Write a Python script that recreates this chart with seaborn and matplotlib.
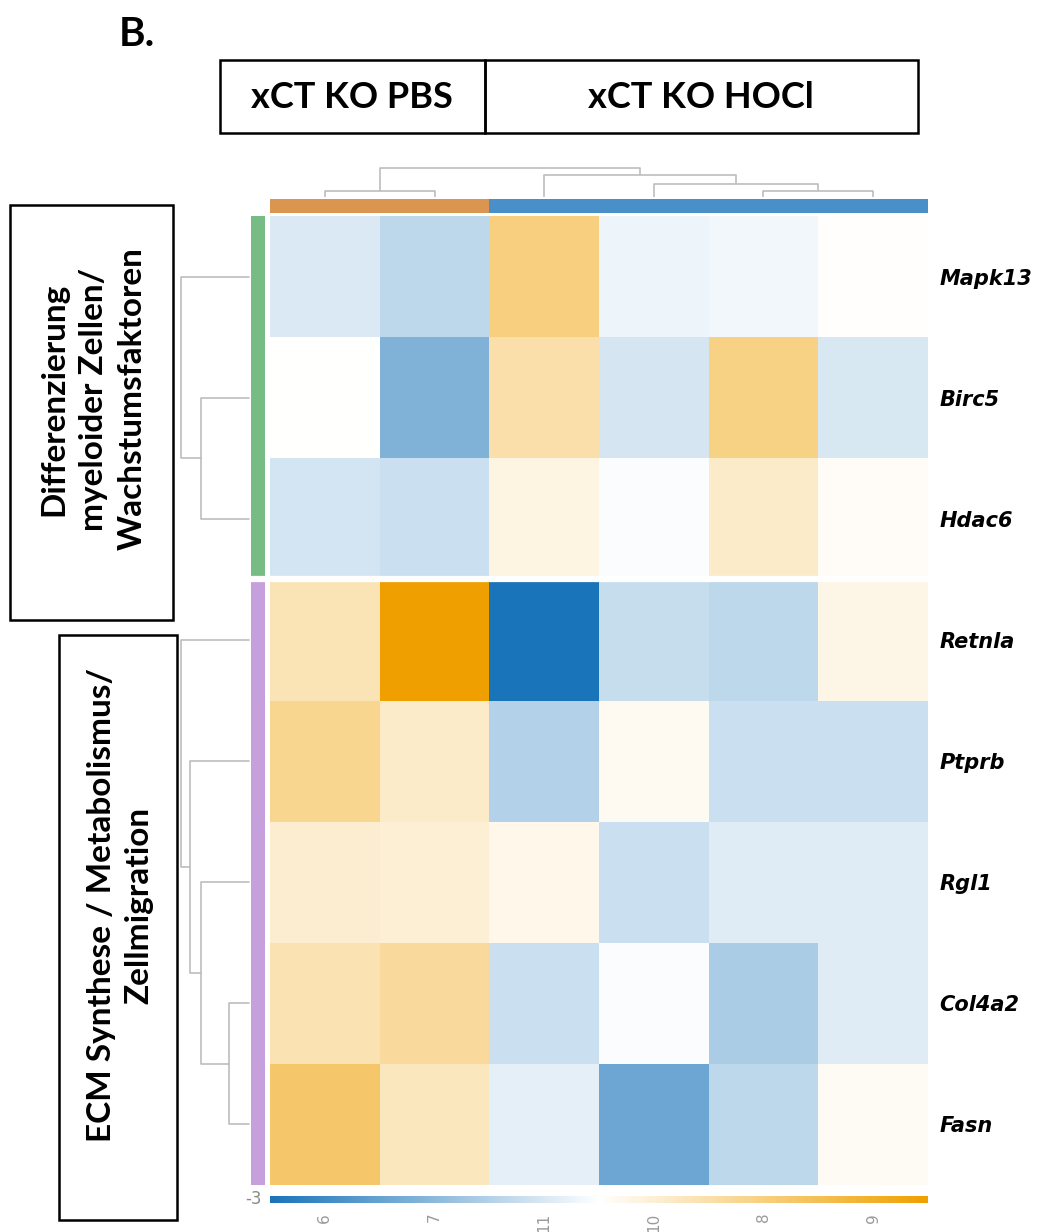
import numpy as np
import pandas as pd
import matplotlib
matplotlib.use("Agg")
import matplotlib.pyplot as plt
import seaborn as sns
from matplotlib.colors import LinearSegmentedColormap, ListedColormap
from matplotlib.patches import Rectangle

# ---------------- data ----------------
samples = ["6", "7", "11", "10", "8", "9"]
sample_groups = ["xCT KO PBS", "xCT KO PBS", "xCT KO HOCl", "xCT KO HOCl", "xCT KO HOCl", "xCT KO HOCl"]
genes = ["Mapk13", "Birc5", "Hdac6", "Retnla", "Ptprb", "Rgl1", "Col4a2", "Fasn"]
gene_groups = ["Differenzierung\nmyeloider Zellen/\nWachstumsfaktoren"] * 3 + \
              ["ECM Synthese / Metabolismus/\nZellmigration"] * 5

# row z-scores (columns in sample order above)
mapk13 = [-0.48, -0.85, 1.50, -0.22, -0.18, 0.04]
birc5 = [0.02, -1.65, 1.00, -0.55, 1.45, -0.50]
hdac6 = [-0.58, -0.70, 0.35, -0.05, 0.65, 0.08]
retnla = [0.85, 3.00, -3.00, -0.75, -0.85, 0.30]
ptprb = [1.30, 0.65, -1.00, 0.15, -0.70, -0.70]
rgl1 = [0.55, 0.50, 0.25, -0.70, -0.40, -0.40]
col4a2 = [0.90, 1.15, -0.70, -0.05, -1.10, -0.40]
fasn = [1.75, 0.75, -0.35, -1.90, -0.85, 0.12]

# hierarchical merges: (child a, child b, normalised height); new nodes numbered after leaves
col_merges = [(0, 1, 0.20), (4, 5, 0.20), (3, 7, 0.46), (2, 8, 0.76), (6, 9, 1.00)]
row_merges_a = [(1, 2, 0.70), (0, 3, 1.00)]
row_merges_b = [(3, 4, 0.30), (2, 5, 0.70), (1, 6, 0.87), (0, 7, 1.00)]

vmin, vmax = -3, 3

# ---------------- style ----------------
sns.set_style("white")
plt.rcParams["font.family"] = ["Lato", "DejaVu Sans"]
plt.rcParams["text.color"] = "black"

W, H = 1056, 1232
fig = plt.figure(figsize=(W / 100, H / 100), dpi=100)


def px_axes(left, top, right, bottom):
    return fig.add_axes([left / W, 1 - bottom / H, (right - left) / W, (bottom - top) / H])


def px_box(left, top, right, bottom, lw=1.8):
    fig.add_artist(Rectangle((left / W, 1 - bottom / H), (right - left) / W, (bottom - top) / H,
                             transform=fig.transFigure, fill=False, lw=lw, ec="black"))


def dendro_segments(n_leaves, merges):
    pos = {i: i + 0.5 for i in range(n_leaves)}
    hgt = {i: 0.0 for i in range(n_leaves)}
    segs = []
    for k, (a, b, h) in enumerate(merges):
        node = n_leaves + k
        segs.append(([pos[a], pos[a], pos[b], pos[b]], [hgt[a], h, h, hgt[b]]))
        pos[node] = (pos[a] + pos[b]) / 2
        hgt[node] = h
    return segs


cmap = LinearSegmentedColormap.from_list("bwo", ["#1a74b9", "#ffffff", "#efa000"])
dendro_color = "#bdbdbd"

# ---------------- heatmap ----------------
df = pd.DataFrame([mapk13, birc5, hdac6, retnla, ptprb, rgl1, col4a2, fasn],
                  index=genes, columns=samples)

ax = px_axes(270, 216, 928, 1185)
cax = px_axes(270, 1196, 928, 1203)
sns.heatmap(df, ax=ax, cmap=cmap, vmin=vmin, vmax=vmax, cbar=True, cbar_ax=cax,
            cbar_kws={"orientation": "horizontal"}, linewidths=0)
n_first = gene_groups.count(gene_groups[0])
ax.axhline(n_first, color="white", lw=4.5)
ax.set_xlabel("")
ax.set_ylabel("")
ax.tick_params(axis="x", length=0, pad=20, labelsize=11, labelcolor="#9a9a9a", labelrotation=90)
for t in ax.get_xticklabels():
    t.set_family(["DejaVu Sans"])
ax.yaxis.tick_right()
ax.tick_params(axis="y", length=0, pad=8)
ax.set_yticklabels(genes, rotation=0, fontsize=15, fontweight="bold", fontstyle="italic",
                   family=["DejaVu Sans"], color="black")

cbar = ax.collections[0].colorbar
cbar.outline.set_visible(False)
cbar.set_ticks([])
cax.text(-0.012, 0.5, f"{vmin:g}", transform=cax.transAxes, ha="right", va="center",
         fontsize=12, color="#8a8a8a", family=["DejaVu Sans"])

# ---------------- column annotation bar ----------------
col_levels = list(dict.fromkeys(sample_groups))
col_codes = pd.DataFrame([[col_levels.index(g) for g in sample_groups]], columns=samples)
ax_cc = px_axes(270, 199, 928, 213)
sns.heatmap(col_codes, ax=ax_cc, cmap=ListedColormap(["#da9651", "#4a90c8"]), vmin=-0.5, vmax=1.5,
            cbar=False, xticklabels=False, yticklabels=False)

# ---------------- row annotation bar ----------------
row_levels = list(dict.fromkeys(gene_groups))
row_codes = pd.DataFrame({"g": [row_levels.index(g) for g in gene_groups]}, index=genes)
ax_rc = px_axes(251, 216, 265, 1185)
sns.heatmap(row_codes, ax=ax_rc, cmap=ListedColormap(["#77bb85", "#c6a0dc"]), vmin=-0.5, vmax=1.5,
            cbar=False, xticklabels=False, yticklabels=False)
ax_rc.axhline(n_first, color="white", lw=4.5)

# ---------------- dendrograms ----------------
ax_top = px_axes(270, 168, 928, 197)
for xs, ys in dendro_segments(len(samples), col_merges):
    ax_top.plot(xs, ys, color=dendro_color, lw=1.2, clip_on=False, solid_capstyle="butt")
ax_top.set_xlim(0, len(samples))
ax_top.set_ylim(0, 1.0)
ax_top.axis("off")

ax_left = px_axes(181, 216, 249, 1185)
for xs, ys in dendro_segments(n_first, row_merges_a):
    ax_left.plot(ys, xs, color=dendro_color, lw=1.2, clip_on=False)
for xs, ys in dendro_segments(len(genes) - n_first, row_merges_b):
    ax_left.plot(ys, [x + n_first for x in xs], color=dendro_color, lw=1.2, clip_on=False)
ax_left.set_xlim(1.0, 0)
ax_left.set_ylim(len(genes), 0)
ax_left.axis("off")

# ---------------- annotation boxes ----------------
fig.text(119 / W, 1 - 34 / H, "B.", fontsize=29, fontweight="bold", ha="left", va="center")

px_box(220, 60, 485, 133)
px_box(485, 60, 918, 133)
fig.text(352 / W, 1 - 97 / H, col_levels[0], fontsize=26, fontweight="bold", ha="center", va="center")
fig.text(701 / W, 1 - 97 / H, col_levels[1], fontsize=26, fontweight="bold", ha="center", va="center")

px_box(10, 205, 173, 620)
fig.text(93 / W, 1 - 399 / H, row_levels[0], fontsize=24, fontweight="bold", rotation=90,
         ha="center", va="center", multialignment="center", linespacing=1.42)
px_box(59, 635, 177, 1220)
fig.text(120 / W, 1 - 905 / H, row_levels[1], fontsize=24, fontweight="bold", rotation=90,
         ha="center", va="center", multialignment="center", linespacing=1.35)

fig.savefig("out.png", dpi=100)
